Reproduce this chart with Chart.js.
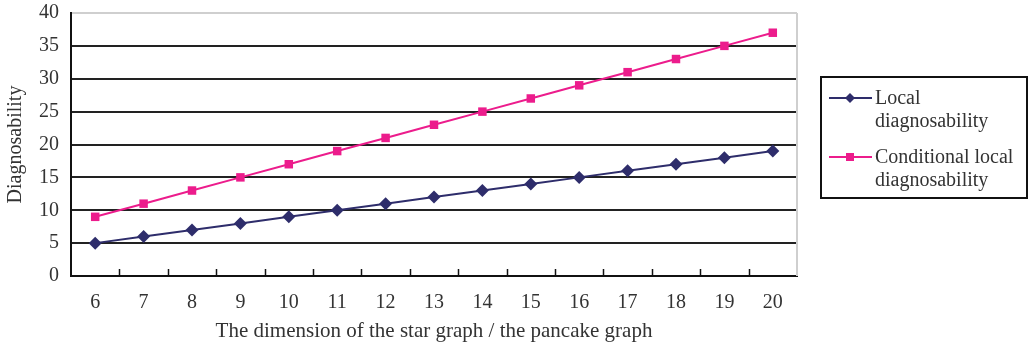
<!DOCTYPE html>
<html>
<head>
<meta charset="utf-8">
<script src="https://cdn.jsdelivr.net/npm/chart.js@4/dist/chart.umd.min.js"></script>
<style>
  html, body { margin: 0; padding: 0; background: #fff; }
  #wrap { width: 1035px; height: 342px; }
</style>
</head>
<body>
<div id="wrap"><canvas id="myChart" width="1035" height="342"></canvas></div>
<script>
// data
const dimensions = ['6', '7', '8', '9', '10', '11', '12', '13', '14', '15', '16', '17', '18', '19', '20'];
const localDiag = [5, 6, 7, 8, 9, 10, 11, 12, 13, 14, 15, 16, 17, 18, 19];
const condLocalDiag = [9, 11, 13, 15, 17, 19, 21, 23, 25, 27, 29, 31, 33, 35, 37];
const legendLines = [
  ['Local', 'diagnosability'],
  ['Conditional local', 'diagnosability']
];

const navy = '#2e2d6b';
const pink = '#ec1c8c';
const serif = "'Liberation Serif', 'Times New Roman', serif";

// tick marks sitting inside the plot, on the category boundaries
const innerTicks = {
  id: 'innerTicks',
  afterDraw(chart) {
    const ctx = chart.ctx;
    const x = chart.scales.x;
    const area = chart.chartArea;
    ctx.save();
    ctx.strokeStyle = '#111';
    ctx.lineWidth = 1.5;
    for (let i = 1; i < dimensions.length; i++) {
      const px = Math.round((x.getPixelForValue(i - 1) + x.getPixelForValue(i)) / 2) + 0.5;
      ctx.beginPath();
      ctx.moveTo(px, area.bottom);
      ctx.lineTo(px, area.bottom - 7);
      ctx.stroke();
    }
    ctx.restore();
  }
};

// boxed legend with wrapped labels
const boxLegend = {
  id: 'boxLegend',
  afterDraw(chart) {
    const ctx = chart.ctx;
    const bx = 821, by = 77, bw = 206, bh = 121;
    ctx.save();
    ctx.strokeStyle = '#111';
    ctx.lineWidth = 2;
    ctx.strokeRect(bx, by, bw, bh);
    ctx.font = '20px ' + serif;
    ctx.textBaseline = 'middle';
    const rows = [98, 157];
    chart.data.datasets.forEach((ds, i) => {
      const y = rows[i];
      ctx.strokeStyle = ds.borderColor;
      ctx.lineWidth = 2;
      ctx.beginPath();
      ctx.moveTo(829, y);
      ctx.lineTo(872, y);
      ctx.stroke();
      ctx.fillStyle = ds.backgroundColor;
      ctx.beginPath();
      if (ds.pointStyle === 'rectRot') {
        ctx.moveTo(850, y - 5); ctx.lineTo(855, y); ctx.lineTo(850, y + 5); ctx.lineTo(845, y);
        ctx.closePath();
      } else {
        ctx.rect(846, y - 4, 8, 8);
      }
      ctx.fill();
      ctx.fillStyle = '#333';
      legendLines[i].forEach((t, j) => ctx.fillText(t, 875, y + 1 + j * 23));
    });
    ctx.restore();
  }
};

const ctx = document.getElementById('myChart').getContext('2d');
const chart = new Chart(ctx, {
  type: 'line',
  data: {
    labels: dimensions,
    datasets: [
      {
        label: 'Local diagnosability',
        data: localDiag,
        borderColor: navy,
        backgroundColor: navy,
        borderWidth: 2,
        pointStyle: 'rectRot',
        pointRadius: 6.5,
        pointBorderWidth: 0,
        tension: 0
      },
      {
        label: 'Conditional local diagnosability',
        data: condLocalDiag,
        borderColor: pink,
        backgroundColor: pink,
        borderWidth: 2,
        pointStyle: 'rect',
        pointRadius: 6,
        pointBorderWidth: 0,
        tension: 0
      }
    ]
  },
  options: {
    responsive: false,
    animation: false,
    layout: { padding: { top: 13, right: 238, left: 0, bottom: 0 } },
    plugins: {
      legend: { display: false },
      tooltip: { enabled: false }
    },
    scales: {
      x: {
        offset: true,
        afterFit: (s) => { s.height = 66; s.paddingLeft = 0; s.paddingRight = 0; },
        grid: { display: false, offset: true, drawTicks: false },
        border: { display: true, color: '#111', width: 2 },
        ticks: { color: '#333', font: { family: serif, size: 20 }, padding: 15 },
        title: {
          display: true,
          text: 'The dimension of the star graph / the pancake graph',
          color: '#333',
          font: { family: serif, size: 21 },
          padding: { top: 0, bottom: -2 }
        }
      },
      y: {
        min: 0,
        max: 40,
        afterFit: (s) => { s.width = 71; s.paddingTop = 0; s.paddingBottom = 0; },
        ticks: { stepSize: 5, color: '#333', font: { family: serif, size: 20 }, padding: 12 },
        grid: {
          drawTicks: false,
          lineWidth: 2,
          color: (c) => (c.tick && c.tick.value === 40 ? '#cfcfcf' : '#222')
        },
        border: { display: true, color: '#111', width: 2 },
        title: {
          display: true,
          text: 'Diagnosability',
          color: '#333',
          font: { family: serif, size: 20 },
          padding: { top: 4, bottom: 0 }
        }
      }
    }
  },
  plugins: [
    innerTicks,
    boxLegend,
    {
      id: 'rightBorder',
      beforeDatasetsDraw(chart) {
        const a = chart.chartArea;
        const c = chart.ctx;
        c.save();
        c.strokeStyle = '#cfcfcf';
        c.lineWidth = 2;
        c.beginPath();
        c.moveTo(a.right, a.top);
        c.lineTo(a.right, a.bottom);
        c.stroke();
        c.restore();
      }
    }
  ]
});
</script>
</body>
</html>
